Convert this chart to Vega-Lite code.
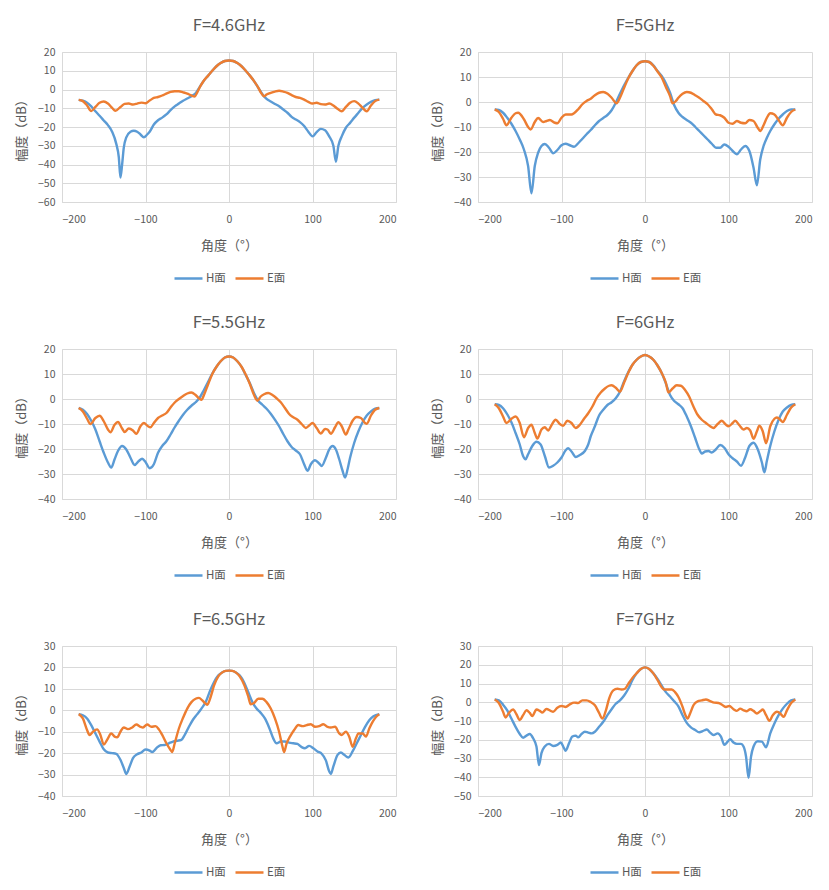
{
  "$schema": "https://vega.github.io/schema/vega-lite/v6.json",
  "description": "Radiation patterns, H plane and E plane, 4.6-7 GHz",
  "background": "white",
  "padding": {"left": 15, "top": 17, "right": 4, "bottom": 2},
  "datasets": {
    "h46": [
      {"angle":-180,"gain":-5.5},{"angle":-175,"gain":-6},{"angle":-170,"gain":-7},{"angle":-165,"gain":-9},{"angle":-160,"gain":-11.6},{"angle":-155,"gain":-14},{"angle":-150,"gain":-16.5},{"angle":-145,"gain":-19},{"angle":-140,"gain":-22.5},{"angle":-135,"gain":-29},{"angle":-132,"gain":-36},{"angle":-130,"gain":-47},{"angle":-128,"gain":-40},{"angle":-126,"gain":-31},{"angle":-123,"gain":-25.5},{"angle":-118,"gain":-22.5},{"angle":-114,"gain":-22},{"angle":-110,"gain":-22.5},{"angle":-106,"gain":-24},{"angle":-102,"gain":-25.5},{"angle":-98,"gain":-24},{"angle":-95,"gain":-22.5},{"angle":-90,"gain":-18.7},{"angle":-85,"gain":-16.4},{"angle":-80,"gain":-15},{"angle":-75,"gain":-13.3},{"angle":-70,"gain":-11},{"angle":-65,"gain":-9},{"angle":-60,"gain":-7.5},{"angle":-55,"gain":-6},{"angle":-50,"gain":-4.8},{"angle":-45,"gain":-3.6},{"angle":-40,"gain":-2},{"angle":-35,"gain":1.4},{"angle":-30,"gain":4.8},{"angle":-25,"gain":7.4},{"angle":-20,"gain":10},{"angle":-15,"gain":12.4},{"angle":-10,"gain":14.1},{"angle":-5,"gain":15.2},{"angle":0,"gain":15.5},{"angle":5,"gain":15.2},{"angle":10,"gain":14.1},{"angle":15,"gain":12.4},{"angle":20,"gain":10},{"angle":25,"gain":7.4},{"angle":30,"gain":4.5},{"angle":35,"gain":1},{"angle":40,"gain":-2.5},{"angle":45,"gain":-5},{"angle":50,"gain":-6.4},{"angle":55,"gain":-7.7},{"angle":60,"gain":-8.9},{"angle":65,"gain":-10.7},{"angle":70,"gain":-12.4},{"angle":75,"gain":-14.6},{"angle":80,"gain":-16},{"angle":85,"gain":-17.4},{"angle":90,"gain":-19.5},{"angle":95,"gain":-22.5},{"angle":100,"gain":-25},{"angle":105,"gain":-22.7},{"angle":110,"gain":-21},{"angle":115,"gain":-21.7},{"angle":120,"gain":-25},{"angle":125,"gain":-30},{"angle":128,"gain":-38.5},{"angle":131,"gain":-30},{"angle":135,"gain":-25},{"angle":140,"gain":-20.4},{"angle":145,"gain":-17.8},{"angle":150,"gain":-15},{"angle":155,"gain":-12.4},{"angle":160,"gain":-9.8},{"angle":165,"gain":-8},{"angle":170,"gain":-6.6},{"angle":175,"gain":-5.7},{"angle":180,"gain":-5.4}
    ],
    "e46": [
      {"angle":-180,"gain":-5.5},{"angle":-175,"gain":-6.2},{"angle":-170,"gain":-8.5},{"angle":-165,"gain":-11.5},{"angle":-160,"gain":-9.3},{"angle":-155,"gain":-7.1},{"angle":-150,"gain":-6.4},{"angle":-145,"gain":-7.5},{"angle":-140,"gain":-9.8},{"angle":-136,"gain":-11.3},{"angle":-130,"gain":-9.3},{"angle":-125,"gain":-7.7},{"angle":-120,"gain":-7.5},{"angle":-115,"gain":-8},{"angle":-110,"gain":-7.5},{"angle":-105,"gain":-7},{"angle":-100,"gain":-7.3},{"angle":-95,"gain":-5.9},{"angle":-90,"gain":-4.5},{"angle":-85,"gain":-4},{"angle":-80,"gain":-3.2},{"angle":-75,"gain":-2.2},{"angle":-70,"gain":-1.3},{"angle":-65,"gain":-0.9},{"angle":-60,"gain":-0.9},{"angle":-55,"gain":-1.5},{"angle":-50,"gain":-2.2},{"angle":-45,"gain":-3.2},{"angle":-41,"gain":-3.7},{"angle":-38,"gain":-1.5},{"angle":-35,"gain":1.2},{"angle":-30,"gain":4.8},{"angle":-25,"gain":7.4},{"angle":-20,"gain":10},{"angle":-15,"gain":12.4},{"angle":-10,"gain":14.1},{"angle":-5,"gain":15.2},{"angle":0,"gain":15.5},{"angle":5,"gain":15.2},{"angle":10,"gain":14.1},{"angle":15,"gain":12.4},{"angle":20,"gain":10},{"angle":25,"gain":7.4},{"angle":30,"gain":4.5},{"angle":35,"gain":1},{"angle":38,"gain":-1.5},{"angle":42,"gain":-3.6},{"angle":45,"gain":-2.7},{"angle":50,"gain":-1.8},{"angle":55,"gain":-1.1},{"angle":60,"gain":-0.7},{"angle":65,"gain":-1.1},{"angle":70,"gain":-1.8},{"angle":75,"gain":-3},{"angle":80,"gain":-4},{"angle":85,"gain":-4.5},{"angle":90,"gain":-5.4},{"angle":95,"gain":-6.6},{"angle":100,"gain":-7.5},{"angle":105,"gain":-7.1},{"angle":110,"gain":-7.8},{"angle":115,"gain":-8},{"angle":120,"gain":-7.5},{"angle":125,"gain":-8.5},{"angle":130,"gain":-10.3},{"angle":135,"gain":-11.6},{"angle":140,"gain":-9.3},{"angle":145,"gain":-7.1},{"angle":150,"gain":-6.2},{"angle":155,"gain":-7.5},{"angle":160,"gain":-9.8},{"angle":165,"gain":-11.6},{"angle":170,"gain":-8.5},{"angle":175,"gain":-6.2},{"angle":180,"gain":-5.4}
    ],
    "h50": [
      {"angle":-180,"gain":-3},{"angle":-175,"gain":-3.2},{"angle":-170,"gain":-4.3},{"angle":-165,"gain":-6.3},{"angle":-160,"gain":-8.7},{"angle":-155,"gain":-11.6},{"angle":-150,"gain":-15},{"angle":-145,"gain":-19},{"angle":-140,"gain":-25.6},{"angle":-136,"gain":-36.5},{"angle":-132,"gain":-25.6},{"angle":-128,"gain":-20.3},{"angle":-124,"gain":-17.6},{"angle":-120,"gain":-16.8},{"angle":-115,"gain":-18.3},{"angle":-110,"gain":-20.5},{"angle":-105,"gain":-19.2},{"angle":-100,"gain":-17.3},{"angle":-95,"gain":-16.7},{"angle":-90,"gain":-17.3},{"angle":-85,"gain":-17.9},{"angle":-80,"gain":-16.5},{"angle":-75,"gain":-14.7},{"angle":-70,"gain":-12.9},{"angle":-65,"gain":-11.2},{"angle":-60,"gain":-9.3},{"angle":-55,"gain":-7.6},{"angle":-50,"gain":-6.4},{"angle":-45,"gain":-5.2},{"angle":-40,"gain":-3.3},{"angle":-35,"gain":-0.3},{"angle":-30,"gain":3.3},{"angle":-25,"gain":6.7},{"angle":-20,"gain":9.7},{"angle":-15,"gain":12.4},{"angle":-10,"gain":14.7},{"angle":-5,"gain":16},{"angle":0,"gain":16.3},{"angle":5,"gain":16},{"angle":10,"gain":14.7},{"angle":15,"gain":12.4},{"angle":20,"gain":10.4},{"angle":25,"gain":7.5},{"angle":30,"gain":3.7},{"angle":35,"gain":-1.3},{"angle":40,"gain":-4.3},{"angle":45,"gain":-6},{"angle":50,"gain":-7.2},{"angle":55,"gain":-8.3},{"angle":60,"gain":-9.9},{"angle":65,"gain":-11.6},{"angle":70,"gain":-13.3},{"angle":75,"gain":-15},{"angle":80,"gain":-16.7},{"angle":85,"gain":-18.3},{"angle":90,"gain":-18.3},{"angle":95,"gain":-17},{"angle":100,"gain":-17.9},{"angle":105,"gain":-19.6},{"angle":110,"gain":-20.9},{"angle":115,"gain":-19},{"angle":120,"gain":-17.6},{"angle":125,"gain":-19.6},{"angle":130,"gain":-26.3},{"angle":134,"gain":-33.3},{"angle":138,"gain":-23},{"angle":142,"gain":-17.6},{"angle":146,"gain":-14.3},{"angle":150,"gain":-11.6},{"angle":155,"gain":-8.9},{"angle":160,"gain":-6.7},{"angle":165,"gain":-5},{"angle":170,"gain":-3.6},{"angle":175,"gain":-3},{"angle":180,"gain":-3}
    ],
    "e50": [
      {"angle":-180,"gain":-3},{"angle":-175,"gain":-4},{"angle":-170,"gain":-6.7},{"angle":-166,"gain":-9.3},{"angle":-160,"gain":-6.3},{"angle":-155,"gain":-4.5},{"angle":-152,"gain":-4.3},{"angle":-145,"gain":-6.9},{"angle":-140,"gain":-10},{"angle":-137,"gain":-11},{"angle":-132,"gain":-8},{"angle":-128,"gain":-6.4},{"angle":-122,"gain":-8},{"angle":-118,"gain":-7.6},{"angle":-114,"gain":-7.2},{"angle":-108,"gain":-8.3},{"angle":-105,"gain":-8.5},{"angle":-100,"gain":-6.3},{"angle":-95,"gain":-5},{"angle":-88,"gain":-5},{"angle":-85,"gain":-4.5},{"angle":-80,"gain":-2.9},{"angle":-75,"gain":-0.9},{"angle":-70,"gain":0.4},{"angle":-65,"gain":1.3},{"angle":-60,"gain":2.7},{"angle":-55,"gain":3.7},{"angle":-50,"gain":4},{"angle":-45,"gain":3.3},{"angle":-40,"gain":1.7},{"angle":-34,"gain":-0.5},{"angle":-30,"gain":1.7},{"angle":-25,"gain":5.7},{"angle":-20,"gain":9.5},{"angle":-15,"gain":12.4},{"angle":-10,"gain":14.7},{"angle":-5,"gain":16},{"angle":0,"gain":16.3},{"angle":5,"gain":16},{"angle":10,"gain":14.5},{"angle":15,"gain":12.2},{"angle":20,"gain":9.8},{"angle":25,"gain":6},{"angle":30,"gain":2.4},{"angle":33,"gain":-0.5},{"angle":37,"gain":0.4},{"angle":40,"gain":1.7},{"angle":45,"gain":3.3},{"angle":50,"gain":4},{"angle":55,"gain":3.7},{"angle":60,"gain":2.7},{"angle":65,"gain":1.7},{"angle":70,"gain":0.4},{"angle":75,"gain":-0.9},{"angle":80,"gain":-2.9},{"angle":85,"gain":-5},{"angle":90,"gain":-5.3},{"angle":95,"gain":-6.3},{"angle":100,"gain":-8.3},{"angle":105,"gain":-8.7},{"angle":110,"gain":-7.6},{"angle":115,"gain":-8.3},{"angle":120,"gain":-8.5},{"angle":125,"gain":-7.2},{"angle":130,"gain":-7.6},{"angle":135,"gain":-10.3},{"angle":138,"gain":-11.6},{"angle":142,"gain":-9.3},{"angle":146,"gain":-6.3},{"angle":150,"gain":-4.5},{"angle":155,"gain":-5},{"angle":160,"gain":-7.2},{"angle":165,"gain":-9.3},{"angle":170,"gain":-6.3},{"angle":175,"gain":-4},{"angle":180,"gain":-3}
    ],
    "h55": [
      {"angle":-180,"gain":-3.6},{"angle":-175,"gain":-4.3},{"angle":-170,"gain":-6},{"angle":-165,"gain":-8.7},{"angle":-160,"gain":-12.2},{"angle":-155,"gain":-16.9},{"angle":-150,"gain":-21.5},{"angle":-145,"gain":-25.4},{"angle":-141,"gain":-27.4},{"angle":-137,"gain":-24.1},{"angle":-133,"gain":-20.8},{"angle":-128,"gain":-18.8},{"angle":-123,"gain":-20.2},{"angle":-118,"gain":-23.5},{"angle":-113,"gain":-26.4},{"angle":-108,"gain":-24.8},{"angle":-104,"gain":-23.9},{"angle":-100,"gain":-25.2},{"angle":-95,"gain":-27.7},{"angle":-90,"gain":-26.1},{"angle":-85,"gain":-21.5},{"angle":-80,"gain":-18.8},{"angle":-75,"gain":-16.9},{"angle":-70,"gain":-14.2},{"angle":-65,"gain":-11.3},{"angle":-60,"gain":-8.7},{"angle":-55,"gain":-6.3},{"angle":-50,"gain":-4.3},{"angle":-45,"gain":-2.7},{"angle":-40,"gain":-1.3},{"angle":-35,"gain":0.6},{"angle":-30,"gain":3.6},{"angle":-25,"gain":6.9},{"angle":-20,"gain":10.2},{"angle":-15,"gain":12.9},{"angle":-10,"gain":15.1},{"angle":-5,"gain":16.6},{"angle":0,"gain":17},{"angle":5,"gain":16.6},{"angle":10,"gain":15.1},{"angle":15,"gain":12.9},{"angle":20,"gain":9.6},{"angle":25,"gain":6.3},{"angle":30,"gain":2.3},{"angle":35,"gain":-0.7},{"angle":40,"gain":-2.3},{"angle":45,"gain":-3.9},{"angle":50,"gain":-5.9},{"angle":55,"gain":-8.3},{"angle":60,"gain":-10.9},{"angle":65,"gain":-14},{"angle":70,"gain":-16.9},{"angle":75,"gain":-19.2},{"angle":80,"gain":-20.6},{"angle":85,"gain":-22.1},{"angle":90,"gain":-26.1},{"angle":94,"gain":-28.7},{"angle":98,"gain":-26.1},{"angle":103,"gain":-24.5},{"angle":108,"gain":-25.8},{"angle":111,"gain":-26.8},{"angle":116,"gain":-23.5},{"angle":120,"gain":-20.2},{"angle":124,"gain":-18.8},{"angle":128,"gain":-20.2},{"angle":132,"gain":-24.1},{"angle":136,"gain":-28.7},{"angle":139,"gain":-31.4},{"angle":142,"gain":-28.1},{"angle":145,"gain":-23.5},{"angle":150,"gain":-17.5},{"angle":155,"gain":-12.9},{"angle":160,"gain":-9.3},{"angle":165,"gain":-6.6},{"angle":170,"gain":-5},{"angle":175,"gain":-3.9},{"angle":180,"gain":-3.6}
    ],
    "e55": [
      {"angle":-180,"gain":-3.6},{"angle":-175,"gain":-5},{"angle":-170,"gain":-7.9},{"angle":-166,"gain":-10},{"angle":-160,"gain":-7.6},{"angle":-155,"gain":-6.7},{"angle":-150,"gain":-8.9},{"angle":-145,"gain":-12.2},{"angle":-142,"gain":-13.3},{"angle":-137,"gain":-10.3},{"angle":-133,"gain":-9.2},{"angle":-128,"gain":-11.8},{"angle":-125,"gain":-13.2},{"angle":-120,"gain":-11.8},{"angle":-115,"gain":-12.6},{"angle":-111,"gain":-13.9},{"angle":-106,"gain":-10.9},{"angle":-102,"gain":-9.6},{"angle":-97,"gain":-10.9},{"angle":-94,"gain":-11.3},{"angle":-90,"gain":-9.6},{"angle":-85,"gain":-7.6},{"angle":-80,"gain":-6.6},{"angle":-75,"gain":-5.6},{"angle":-70,"gain":-3.4},{"angle":-65,"gain":-1.4},{"angle":-60,"gain":0},{"angle":-55,"gain":1.2},{"angle":-50,"gain":2.2},{"angle":-45,"gain":2.6},{"angle":-40,"gain":1.6},{"angle":-35,"gain":0},{"angle":-33,"gain":-0.3},{"angle":-30,"gain":1.6},{"angle":-25,"gain":5.9},{"angle":-20,"gain":10},{"angle":-15,"gain":12.9},{"angle":-10,"gain":15.1},{"angle":-5,"gain":16.6},{"angle":0,"gain":17},{"angle":5,"gain":16.6},{"angle":10,"gain":15.1},{"angle":15,"gain":12.9},{"angle":20,"gain":9.8},{"angle":25,"gain":6},{"angle":30,"gain":1.6},{"angle":34,"gain":-0.7},{"angle":38,"gain":1},{"angle":42,"gain":1.9},{"angle":47,"gain":2.4},{"angle":52,"gain":1.6},{"angle":57,"gain":0.3},{"angle":62,"gain":-1.3},{"angle":67,"gain":-3.6},{"angle":72,"gain":-6},{"angle":77,"gain":-7.3},{"angle":82,"gain":-8.3},{"angle":87,"gain":-10},{"angle":92,"gain":-11.6},{"angle":96,"gain":-10.6},{"angle":100,"gain":-9.6},{"angle":105,"gain":-11.6},{"angle":110,"gain":-13.8},{"angle":115,"gain":-12},{"angle":118,"gain":-12.2},{"angle":122,"gain":-13.9},{"angle":127,"gain":-11.3},{"angle":131,"gain":-9.3},{"angle":135,"gain":-10.9},{"angle":140,"gain":-14.2},{"angle":143,"gain":-12.2},{"angle":148,"gain":-8.7},{"angle":153,"gain":-7.2},{"angle":158,"gain":-7.6},{"angle":163,"gain":-9.6},{"angle":165,"gain":-9.9},{"angle":170,"gain":-6.6},{"angle":175,"gain":-4.3},{"angle":180,"gain":-3.6}
    ],
    "h60": [
      {"angle":-180,"gain":-2.1},{"angle":-175,"gain":-2.4},{"angle":-170,"gain":-3.7},{"angle":-165,"gain":-6.1},{"angle":-160,"gain":-9.3},{"angle":-155,"gain":-13.6},{"angle":-150,"gain":-18.2},{"angle":-146,"gain":-22.8},{"angle":-143,"gain":-24.1},{"angle":-140,"gain":-22.1},{"angle":-135,"gain":-18.8},{"angle":-130,"gain":-17.1},{"angle":-125,"gain":-18.2},{"angle":-120,"gain":-22.8},{"angle":-115,"gain":-27.4},{"angle":-110,"gain":-26.7},{"angle":-105,"gain":-25.4},{"angle":-100,"gain":-23.4},{"angle":-95,"gain":-20.5},{"angle":-92,"gain":-19.7},{"angle":-88,"gain":-21},{"angle":-83,"gain":-23.2},{"angle":-78,"gain":-22.4},{"angle":-72,"gain":-20.8},{"angle":-68,"gain":-18.2},{"angle":-65,"gain":-14.9},{"angle":-60,"gain":-10.9},{"angle":-55,"gain":-6.6},{"angle":-50,"gain":-4.3},{"angle":-45,"gain":-2.4},{"angle":-40,"gain":-1.3},{"angle":-35,"gain":0.3},{"angle":-30,"gain":2.9},{"angle":-25,"gain":7.1},{"angle":-20,"gain":10.8},{"angle":-15,"gain":13.7},{"angle":-10,"gain":15.7},{"angle":-5,"gain":17},{"angle":0,"gain":17.6},{"angle":5,"gain":17},{"angle":10,"gain":15.7},{"angle":15,"gain":13.4},{"angle":20,"gain":10.4},{"angle":25,"gain":6.2},{"angle":30,"gain":1.6},{"angle":35,"gain":-0.8},{"angle":40,"gain":-2.1},{"angle":45,"gain":-3.7},{"angle":50,"gain":-7},{"angle":55,"gain":-10.9},{"angle":60,"gain":-15.5},{"angle":65,"gain":-20.1},{"angle":68,"gain":-21.8},{"angle":72,"gain":-21},{"angle":76,"gain":-20.8},{"angle":80,"gain":-21.4},{"angle":85,"gain":-20.1},{"angle":90,"gain":-18.4},{"angle":95,"gain":-19.5},{"angle":100,"gain":-22.1},{"angle":105,"gain":-23.7},{"angle":110,"gain":-25},{"angle":115,"gain":-26.7},{"angle":120,"gain":-23.4},{"angle":125,"gain":-18.8},{"angle":130,"gain":-17.5},{"angle":135,"gain":-20.1},{"angle":140,"gain":-25.4},{"angle":143,"gain":-29.3},{"angle":146,"gain":-24.7},{"angle":150,"gain":-18.8},{"angle":155,"gain":-12.9},{"angle":160,"gain":-8.3},{"angle":165,"gain":-5},{"angle":170,"gain":-3.4},{"angle":175,"gain":-2.4},{"angle":180,"gain":-2.1}
    ],
    "e60": [
      {"angle":-180,"gain":-2.1},{"angle":-175,"gain":-3.7},{"angle":-170,"gain":-7},{"angle":-166,"gain":-9.6},{"angle":-160,"gain":-7.9},{"angle":-155,"gain":-7},{"angle":-150,"gain":-9.6},{"angle":-145,"gain":-15.3},{"angle":-140,"gain":-11.6},{"angle":-136,"gain":-10.3},{"angle":-132,"gain":-13.6},{"angle":-129,"gain":-15.8},{"angle":-124,"gain":-12.2},{"angle":-120,"gain":-11.3},{"angle":-116,"gain":-12.6},{"angle":-112,"gain":-10.5},{"angle":-107,"gain":-8.3},{"angle":-102,"gain":-10},{"angle":-98,"gain":-10.7},{"angle":-93,"gain":-8.7},{"angle":-88,"gain":-9.6},{"angle":-83,"gain":-11.6},{"angle":-78,"gain":-10.3},{"angle":-73,"gain":-7.9},{"angle":-68,"gain":-5.7},{"angle":-63,"gain":-3},{"angle":-58,"gain":0.3},{"angle":-53,"gain":2.6},{"angle":-48,"gain":4.2},{"angle":-43,"gain":5.3},{"angle":-40,"gain":5.5},{"angle":-35,"gain":4.5},{"angle":-30,"gain":2.9},{"angle":-25,"gain":6.6},{"angle":-20,"gain":10.5},{"angle":-15,"gain":13.7},{"angle":-10,"gain":15.7},{"angle":-5,"gain":17},{"angle":0,"gain":17.6},{"angle":5,"gain":17},{"angle":10,"gain":15.7},{"angle":15,"gain":13.4},{"angle":20,"gain":10.4},{"angle":25,"gain":6.5},{"angle":28,"gain":2.6},{"angle":33,"gain":4.2},{"angle":38,"gain":5.5},{"angle":43,"gain":5.3},{"angle":48,"gain":3.6},{"angle":53,"gain":0.9},{"angle":58,"gain":-3},{"angle":63,"gain":-6.3},{"angle":68,"gain":-8.3},{"angle":73,"gain":-9.6},{"angle":78,"gain":-10.9},{"angle":82,"gain":-11.6},{"angle":87,"gain":-10},{"angle":92,"gain":-8.7},{"angle":97,"gain":-10.3},{"angle":100,"gain":-10.9},{"angle":105,"gain":-9.6},{"angle":108,"gain":-8.7},{"angle":113,"gain":-10.5},{"angle":118,"gain":-12.2},{"angle":122,"gain":-11.6},{"angle":126,"gain":-12.6},{"angle":130,"gain":-15.9},{"angle":134,"gain":-12.9},{"angle":137,"gain":-10.7},{"angle":141,"gain":-12.9},{"angle":145,"gain":-17.7},{"angle":150,"gain":-10.9},{"angle":155,"gain":-7.9},{"angle":158,"gain":-7.4},{"angle":162,"gain":-8.3},{"angle":165,"gain":-9.2},{"angle":170,"gain":-6.3},{"angle":175,"gain":-3.4},{"angle":180,"gain":-2.1}
    ],
    "h65": [
      {"angle":-180,"gain":-1.8},{"angle":-175,"gain":-2.3},{"angle":-170,"gain":-3.8},{"angle":-165,"gain":-6.9},{"angle":-160,"gain":-10.8},{"angle":-155,"gain":-14.6},{"angle":-150,"gain":-18.2},{"angle":-145,"gain":-19.7},{"angle":-140,"gain":-20},{"angle":-135,"gain":-20.3},{"angle":-130,"gain":-23.1},{"angle":-126,"gain":-26.9},{"angle":-123,"gain":-29.7},{"angle":-119,"gain":-26.2},{"angle":-115,"gain":-22.3},{"angle":-110,"gain":-20.5},{"angle":-105,"gain":-19.7},{"angle":-100,"gain":-18.3},{"angle":-95,"gain":-18.8},{"angle":-92,"gain":-19.5},{"angle":-87,"gain":-17.7},{"angle":-82,"gain":-16.3},{"angle":-77,"gain":-16.2},{"angle":-72,"gain":-15.4},{"angle":-67,"gain":-14.6},{"angle":-62,"gain":-14.2},{"angle":-57,"gain":-13.8},{"angle":-53,"gain":-11.5},{"angle":-48,"gain":-7.7},{"angle":-43,"gain":-4.3},{"angle":-38,"gain":-1.8},{"angle":-33,"gain":0.8},{"angle":-28,"gain":3.8},{"angle":-23,"gain":8.8},{"angle":-18,"gain":13.1},{"angle":-13,"gain":16.2},{"angle":-8,"gain":17.7},{"angle":-4,"gain":18.4},{"angle":0,"gain":18.5},{"angle":4,"gain":18.4},{"angle":8,"gain":17.7},{"angle":13,"gain":16.2},{"angle":18,"gain":13.1},{"angle":23,"gain":8.5},{"angle":28,"gain":3.8},{"angle":33,"gain":0.8},{"angle":38,"gain":-1.2},{"angle":43,"gain":-3.8},{"angle":48,"gain":-8},{"angle":53,"gain":-13.1},{"angle":57,"gain":-15.4},{"angle":62,"gain":-14.6},{"angle":67,"gain":-14.6},{"angle":72,"gain":-15.1},{"angle":77,"gain":-15.4},{"angle":82,"gain":-15.7},{"angle":87,"gain":-17.2},{"angle":91,"gain":-17.7},{"angle":96,"gain":-16.6},{"angle":101,"gain":-17.7},{"angle":106,"gain":-19.2},{"angle":111,"gain":-20.3},{"angle":116,"gain":-23.4},{"angle":120,"gain":-28.5},{"angle":122,"gain":-29.7},{"angle":125,"gain":-26.2},{"angle":130,"gain":-20.8},{"angle":134,"gain":-19.7},{"angle":138,"gain":-20.8},{"angle":143,"gain":-22},{"angle":148,"gain":-19.2},{"angle":153,"gain":-15.4},{"angle":158,"gain":-11.5},{"angle":163,"gain":-7.7},{"angle":168,"gain":-4.6},{"angle":173,"gain":-2.8},{"angle":180,"gain":-1.8}
    ],
    "e65": [
      {"angle":-180,"gain":-1.8},{"angle":-175,"gain":-3.8},{"angle":-170,"gain":-9.2},{"angle":-167,"gain":-11.5},{"angle":-163,"gain":-10},{"angle":-158,"gain":-8.9},{"angle":-154,"gain":-11.5},{"angle":-150,"gain":-16},{"angle":-146,"gain":-13.8},{"angle":-141,"gain":-10.8},{"angle":-137,"gain":-12.3},{"angle":-134,"gain":-12.6},{"angle":-130,"gain":-10},{"angle":-126,"gain":-8},{"angle":-121,"gain":-8.8},{"angle":-116,"gain":-8},{"angle":-111,"gain":-6.6},{"angle":-106,"gain":-7.7},{"angle":-103,"gain":-8},{"angle":-98,"gain":-6.6},{"angle":-93,"gain":-7.7},{"angle":-88,"gain":-7.4},{"angle":-84,"gain":-8.9},{"angle":-80,"gain":-11.5},{"angle":-75,"gain":-15.4},{"angle":-70,"gain":-18.5},{"angle":-68,"gain":-19.5},{"angle":-65,"gain":-15.4},{"angle":-60,"gain":-8.5},{"angle":-55,"gain":-3.5},{"angle":-50,"gain":0.8},{"angle":-45,"gain":3.8},{"angle":-40,"gain":5.4},{"angle":-36,"gain":5.8},{"angle":-32,"gain":4.6},{"angle":-28,"gain":3.1},{"angle":-26,"gain":2.6},{"angle":-22,"gain":6.2},{"angle":-18,"gain":11.5},{"angle":-13,"gain":15.7},{"angle":-8,"gain":17.7},{"angle":-4,"gain":18.4},{"angle":0,"gain":18.5},{"angle":4,"gain":18.4},{"angle":8,"gain":17.7},{"angle":13,"gain":15.7},{"angle":18,"gain":12},{"angle":23,"gain":6.5},{"angle":26,"gain":2.8},{"angle":30,"gain":3.4},{"angle":35,"gain":5.4},{"angle":40,"gain":5.4},{"angle":45,"gain":3.8},{"angle":50,"gain":0.8},{"angle":55,"gain":-3.8},{"angle":60,"gain":-10},{"angle":64,"gain":-16.9},{"angle":66,"gain":-19.5},{"angle":69,"gain":-15.4},{"angle":73,"gain":-12.3},{"angle":78,"gain":-9.2},{"angle":83,"gain":-6.9},{"angle":88,"gain":-7.4},{"angle":93,"gain":-6.9},{"angle":98,"gain":-6.5},{"angle":103,"gain":-7.7},{"angle":108,"gain":-7.4},{"angle":113,"gain":-6.5},{"angle":118,"gain":-7.7},{"angle":122,"gain":-8},{"angle":127,"gain":-7.7},{"angle":132,"gain":-10.8},{"angle":135,"gain":-11.5},{"angle":140,"gain":-10},{"angle":144,"gain":-12.3},{"angle":148,"gain":-17},{"angle":152,"gain":-13.1},{"angle":155,"gain":-10.8},{"angle":160,"gain":-10.8},{"angle":164,"gain":-12.3},{"angle":168,"gain":-8.5},{"angle":172,"gain":-5.4},{"angle":176,"gain":-3.1},{"angle":180,"gain":-1.8}
    ],
    "h70": [
      {"angle":-180,"gain":1.5},{"angle":-175,"gain":1},{"angle":-170,"gain":-1.3},{"angle":-165,"gain":-4.3},{"angle":-160,"gain":-8.7},{"angle":-155,"gain":-13.1},{"angle":-150,"gain":-16.9},{"angle":-146,"gain":-18.9},{"angle":-142,"gain":-17.8},{"angle":-138,"gain":-16.9},{"angle":-134,"gain":-19.2},{"angle":-130,"gain":-23.6},{"angle":-127,"gain":-33.5},{"angle":-124,"gain":-27.1},{"angle":-120,"gain":-23.6},{"angle":-115,"gain":-22.2},{"angle":-110,"gain":-23.3},{"angle":-105,"gain":-22.7},{"angle":-101,"gain":-21.5},{"angle":-97,"gain":-24.5},{"angle":-95,"gain":-25.9},{"angle":-91,"gain":-21.9},{"angle":-87,"gain":-18.3},{"angle":-83,"gain":-17.8},{"angle":-80,"gain":-18.7},{"angle":-76,"gain":-16.9},{"angle":-72,"gain":-15.7},{"angle":-68,"gain":-16.2},{"angle":-64,"gain":-16.6},{"angle":-60,"gain":-15.7},{"angle":-55,"gain":-13.1},{"angle":-50,"gain":-10.4},{"angle":-45,"gain":-6.9},{"angle":-40,"gain":-3.7},{"angle":-35,"gain":-0.8},{"angle":-30,"gain":1},{"angle":-25,"gain":3.6},{"angle":-20,"gain":7.2},{"angle":-15,"gain":11.9},{"angle":-10,"gain":15.4},{"angle":-5,"gain":17.7},{"angle":0,"gain":18.6},{"angle":5,"gain":17.7},{"angle":10,"gain":15.4},{"angle":15,"gain":12.4},{"angle":20,"gain":8.9},{"angle":25,"gain":5.4},{"angle":30,"gain":3.1},{"angle":35,"gain":0.5},{"angle":40,"gain":-2.2},{"angle":45,"gain":-6.9},{"angle":50,"gain":-11},{"angle":55,"gain":-13.4},{"angle":60,"gain":-14.8},{"angle":65,"gain":-16},{"angle":70,"gain":-15.2},{"angle":74,"gain":-14.5},{"angle":78,"gain":-16.2},{"angle":82,"gain":-17.5},{"angle":87,"gain":-16.6},{"angle":91,"gain":-18.3},{"angle":95,"gain":-22.7},{"angle":99,"gain":-21},{"angle":102,"gain":-19.7},{"angle":106,"gain":-21.5},{"angle":110,"gain":-22.2},{"angle":115,"gain":-22.2},{"angle":118,"gain":-23.6},{"angle":121,"gain":-28.9},{"angle":124,"gain":-40.3},{"angle":127,"gain":-28.9},{"angle":130,"gain":-23.6},{"angle":135,"gain":-20.8},{"angle":140,"gain":-21},{"angle":145,"gain":-24},{"angle":150,"gain":-16.6},{"angle":155,"gain":-11.3},{"angle":160,"gain":-6.9},{"angle":165,"gain":-3.4},{"angle":170,"gain":-0.8},{"angle":175,"gain":1},{"angle":180,"gain":1.5}
    ],
    "e70": [
      {"angle":-180,"gain":1.5},{"angle":-175,"gain":-0.4},{"angle":-170,"gain":-5.1},{"angle":-167,"gain":-8.1},{"angle":-163,"gain":-5.7},{"angle":-158,"gain":-3.9},{"angle":-154,"gain":-6.4},{"angle":-150,"gain":-9.5},{"angle":-146,"gain":-6.9},{"angle":-142,"gain":-4.3},{"angle":-138,"gain":-5.7},{"angle":-135,"gain":-7.3},{"angle":-130,"gain":-3.9},{"angle":-126,"gain":-4.6},{"angle":-123,"gain":-5.5},{"angle":-118,"gain":-3.6},{"angle":-113,"gain":-4.6},{"angle":-110,"gain":-5.1},{"angle":-105,"gain":-2.9},{"angle":-100,"gain":-2},{"angle":-95,"gain":-2.5},{"angle":-90,"gain":-1.1},{"angle":-85,"gain":-0.2},{"angle":-80,"gain":-0.4},{"angle":-75,"gain":1},{"angle":-70,"gain":1},{"angle":-65,"gain":0.1},{"angle":-60,"gain":-1.6},{"angle":-55,"gain":-5.7},{"angle":-51,"gain":-8.7},{"angle":-47,"gain":-4.6},{"angle":-43,"gain":1.9},{"angle":-38,"gain":6.3},{"angle":-33,"gain":7.2},{"angle":-28,"gain":6.8},{"angle":-24,"gain":7.2},{"angle":-20,"gain":9.8},{"angle":-15,"gain":13},{"angle":-10,"gain":15.5},{"angle":-5,"gain":17.7},{"angle":0,"gain":18.6},{"angle":5,"gain":17.7},{"angle":10,"gain":15.4},{"angle":15,"gain":11.9},{"angle":20,"gain":8},{"angle":23,"gain":6.8},{"angle":27,"gain":6.8},{"angle":32,"gain":6.8},{"angle":36,"gain":5.4},{"angle":40,"gain":2.8},{"angle":45,"gain":-2.5},{"angle":48,"gain":-6.4},{"angle":51,"gain":-8.7},{"angle":54,"gain":-6},{"angle":58,"gain":-1.6},{"angle":63,"gain":0.5},{"angle":68,"gain":1},{"angle":73,"gain":1.5},{"angle":78,"gain":0.6},{"angle":83,"gain":-0.2},{"angle":88,"gain":-0.4},{"angle":93,"gain":-1.6},{"angle":97,"gain":-2.5},{"angle":101,"gain":-2},{"angle":106,"gain":-3.7},{"angle":110,"gain":-4.6},{"angle":114,"gain":-3.4},{"angle":118,"gain":-4.3},{"angle":122,"gain":-4.8},{"angle":126,"gain":-3.7},{"angle":130,"gain":-4.6},{"angle":134,"gain":-6},{"angle":138,"gain":-4.8},{"angle":141,"gain":-3.9},{"angle":145,"gain":-6.9},{"angle":149,"gain":-9.9},{"angle":153,"gain":-6.9},{"angle":158,"gain":-5.1},{"angle":162,"gain":-6},{"angle":166,"gain":-7.8},{"angle":170,"gain":-4.3},{"angle":175,"gain":-0.4},{"angle":180,"gain":1.5}
    ]
  },
  "columns": 2,
  "spacing": {"row": 30, "column": 35},
  "resolve": {
    "scale": {"x": "independent", "y": "independent", "color": "independent"},
    "legend": {"color": "independent"}
  },
  "concat": [
    {
      "title": "F=4.6GHz",
      "width": 334, "height": 150,
      "encoding": {
        "x": {"field": "angle", "type": "quantitative", "scale": {"domain": [-200, 200]}, "axis": {"values": [-200, -100, 0, 100, 200], "title": "角度（°）"}},
        "y": {"field": "gain", "type": "quantitative", "scale": {"domain": [-60, 20]}, "axis": {"values": [-60, -50, -40, -30, -20, -10, 0, 10, 20], "title": "幅度（dB）"}}
      },
      "layer": [
        {"data": {"name": "h46"}, "mark": {"type": "line", "interpolate": "monotone", "strokeWidth": 2.4}, "encoding": {"color": {"datum": "H面", "scale": {"domain": ["H面", "E面"], "range": ["#5B9BD5", "#ED7D31"]}, "legend": {"title": null}}}},
        {"data": {"name": "e46"}, "mark": {"type": "line", "interpolate": "monotone", "strokeWidth": 2.4}, "encoding": {"color": {"datum": "E面"}}}
      ]
    },
    {
      "title": "F=5GHz",
      "width": 334, "height": 150,
      "encoding": {
        "x": {"field": "angle", "type": "quantitative", "scale": {"domain": [-200, 200]}, "axis": {"values": [-200, -100, 0, 100, 200], "title": "角度（°）"}},
        "y": {"field": "gain", "type": "quantitative", "scale": {"domain": [-40, 20]}, "axis": {"values": [-40, -30, -20, -10, 0, 10, 20], "title": "幅度（dB）"}}
      },
      "layer": [
        {"data": {"name": "h50"}, "mark": {"type": "line", "interpolate": "monotone", "strokeWidth": 2.4}, "encoding": {"color": {"datum": "H面", "scale": {"domain": ["H面", "E面"], "range": ["#5B9BD5", "#ED7D31"]}, "legend": {"title": null}}}},
        {"data": {"name": "e50"}, "mark": {"type": "line", "interpolate": "monotone", "strokeWidth": 2.4}, "encoding": {"color": {"datum": "E面"}}}
      ]
    },
    {
      "title": "F=5.5GHz",
      "width": 334, "height": 150,
      "encoding": {
        "x": {"field": "angle", "type": "quantitative", "scale": {"domain": [-200, 200]}, "axis": {"values": [-200, -100, 0, 100, 200], "title": "角度（°）"}},
        "y": {"field": "gain", "type": "quantitative", "scale": {"domain": [-40, 20]}, "axis": {"values": [-40, -30, -20, -10, 0, 10, 20], "title": "幅度（dB）"}}
      },
      "layer": [
        {"data": {"name": "h55"}, "mark": {"type": "line", "interpolate": "monotone", "strokeWidth": 2.4}, "encoding": {"color": {"datum": "H面", "scale": {"domain": ["H面", "E面"], "range": ["#5B9BD5", "#ED7D31"]}, "legend": {"title": null}}}},
        {"data": {"name": "e55"}, "mark": {"type": "line", "interpolate": "monotone", "strokeWidth": 2.4}, "encoding": {"color": {"datum": "E面"}}}
      ]
    },
    {
      "title": "F=6GHz",
      "width": 334, "height": 150,
      "encoding": {
        "x": {"field": "angle", "type": "quantitative", "scale": {"domain": [-200, 200]}, "axis": {"values": [-200, -100, 0, 100, 200], "title": "角度（°）"}},
        "y": {"field": "gain", "type": "quantitative", "scale": {"domain": [-40, 20]}, "axis": {"values": [-40, -30, -20, -10, 0, 10, 20], "title": "幅度（dB）"}}
      },
      "layer": [
        {"data": {"name": "h60"}, "mark": {"type": "line", "interpolate": "monotone", "strokeWidth": 2.4}, "encoding": {"color": {"datum": "H面", "scale": {"domain": ["H面", "E面"], "range": ["#5B9BD5", "#ED7D31"]}, "legend": {"title": null}}}},
        {"data": {"name": "e60"}, "mark": {"type": "line", "interpolate": "monotone", "strokeWidth": 2.4}, "encoding": {"color": {"datum": "E面"}}}
      ]
    },
    {
      "title": "F=6.5GHz",
      "width": 334, "height": 150,
      "encoding": {
        "x": {"field": "angle", "type": "quantitative", "scale": {"domain": [-200, 200]}, "axis": {"values": [-200, -100, 0, 100, 200], "title": "角度（°）"}},
        "y": {"field": "gain", "type": "quantitative", "scale": {"domain": [-40, 30]}, "axis": {"values": [-40, -30, -20, -10, 0, 10, 20, 30], "title": "幅度（dB）"}}
      },
      "layer": [
        {"data": {"name": "h65"}, "mark": {"type": "line", "interpolate": "monotone", "strokeWidth": 2.4}, "encoding": {"color": {"datum": "H面", "scale": {"domain": ["H面", "E面"], "range": ["#5B9BD5", "#ED7D31"]}, "legend": {"title": null}}}},
        {"data": {"name": "e65"}, "mark": {"type": "line", "interpolate": "monotone", "strokeWidth": 2.4}, "encoding": {"color": {"datum": "E面"}}}
      ]
    },
    {
      "title": "F=7GHz",
      "width": 334, "height": 150,
      "encoding": {
        "x": {"field": "angle", "type": "quantitative", "scale": {"domain": [-200, 200]}, "axis": {"values": [-200, -100, 0, 100, 200], "title": "角度（°）"}},
        "y": {"field": "gain", "type": "quantitative", "scale": {"domain": [-50, 30]}, "axis": {"values": [-50, -40, -30, -20, -10, 0, 10, 20, 30], "title": "幅度（dB）"}}
      },
      "layer": [
        {"data": {"name": "h70"}, "mark": {"type": "line", "interpolate": "monotone", "strokeWidth": 2.4}, "encoding": {"color": {"datum": "H面", "scale": {"domain": ["H面", "E面"], "range": ["#5B9BD5", "#ED7D31"]}, "legend": {"title": null}}}},
        {"data": {"name": "e70"}, "mark": {"type": "line", "interpolate": "monotone", "strokeWidth": 2.4}, "encoding": {"color": {"datum": "E面"}}}
      ]
    }
  ],
  "config": {
    "font": "Noto Sans CJK SC",
    "view": {"stroke": null},
    "axis": {
      "grid": true,
      "gridColor": "#D9D9D9",
      "domainColor": "#D9D9D9",
      "ticks": false,
      "labelColor": "#595959",
      "labelFontSize": 10.5,
      "titleColor": "#595959",
      "titleFontSize": 13,
      "titleFontWeight": "normal"
    },
    "axisX": {"labelPadding": 12, "titlePadding": 15},
    "axisY": {"labelPadding": 7, "titlePadding": 9},
    "title": {"fontSize": 16.5, "fontWeight": "normal", "color": "#595959", "anchor": "middle", "frame": "group", "offset": 13},
    "legend": {
      "orient": "bottom",
      "direction": "horizontal",
      "offset": 10,
      "symbolType": "stroke",
      "symbolSize": 784,
      "symbolStrokeWidth": 2.5,
      "labelFontSize": 11.5,
      "labelColor": "#595959",
      "labelOffset": 2,
      "columnPadding": 4,
      "layout": {"bottom": {"anchor": "middle"}}
    }
  }
}
